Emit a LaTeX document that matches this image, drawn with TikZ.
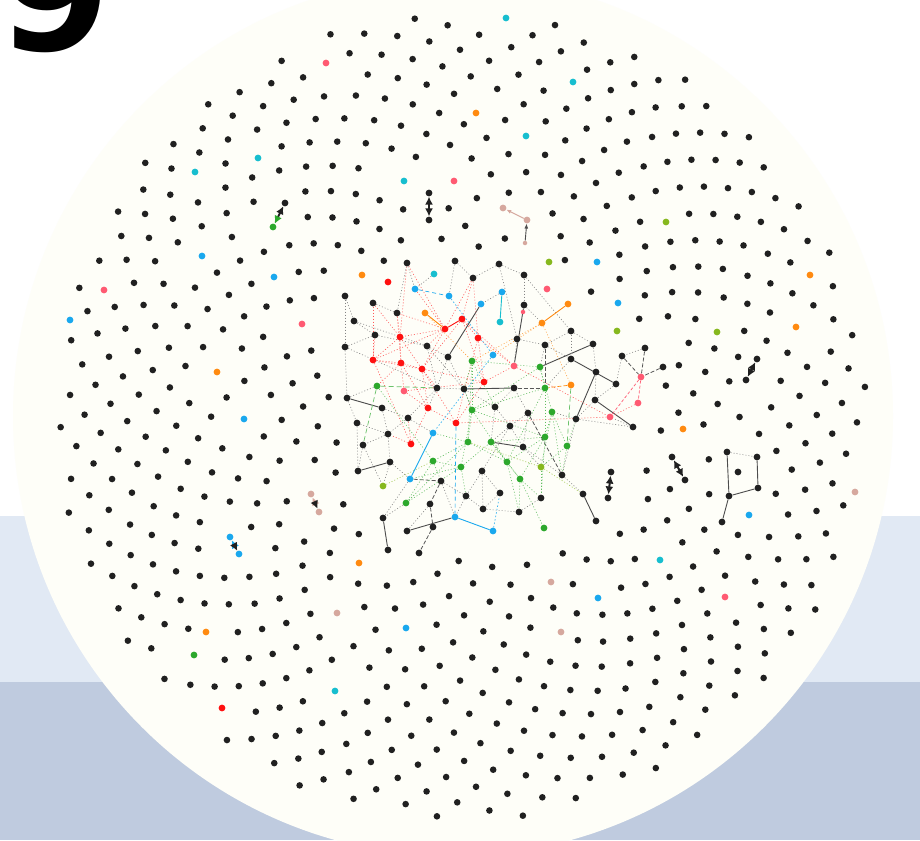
\documentclass[tikz,border=0pt]{standalone}
\usepackage{fontspec}
\setmainfont{DejaVu Sans}
\usetikzlibrary{arrows.meta}
\definecolor{cdk}{HTML}{202020}
\definecolor{ccr}{HTML}{FEFEF8}
\definecolor{cb1}{HTML}{E1E9F4}
\definecolor{cb2}{HTML}{BFCBDF}
\definecolor{cT}{HTML}{17BECF}
\definecolor{cP}{HTML}{FF5A72}
\definecolor{cR}{HTML}{FF1010}
\definecolor{cO}{HTML}{FF8A10}
\definecolor{cB}{HTML}{1AA8EE}
\definecolor{cL}{HTML}{86B81E}
\definecolor{cG}{HTML}{2CA82C}
\definecolor{cN}{HTML}{D6A89E}
\pgfdeclarelayer{bg}\pgfdeclarelayer{edges}\pgfsetlayers{bg,edges,main}
\newcommand\markcell[2]{%
  \edef\mcx{\the\numexpr #1/10\relax}\edef\mcy{\the\numexpr #2/10\relax}%
  \foreach \di in {-1,0,1}{\foreach \dj in {-1,0,1}{%
    \expandafter\gdef\csname occ@\the\numexpr\mcx+\di\relax @\the\numexpr\mcy+\dj\relax\endcsname{}}}}
\newcommand\nd[4]{\node[#1] (#2) at (#3,#4) {};\markcell{#3}{#4}}
\tikzset{
  dot/.style={circle, inner sep=0pt, minimum size=6.8pt, draw=none},
  vK/.style={dot, fill=cdk}, vT/.style={dot, fill=cT}, vP/.style={dot, fill=cP},
  vR/.style={dot, fill=cR}, vO/.style={dot, fill=cO}, vB/.style={dot, fill=cB},
  vL/.style={dot, fill=cL}, vG/.style={dot, fill=cG}, vN/.style={dot, fill=cN},
  vS/.style={minimum size=4.5pt},
  eK/.style={draw=cdk!80, line width=0.9pt},
  eKd/.style={draw=cdk!75, line width=0.8pt, dash pattern=on 4pt off 2pt},
  eKo/.style={draw=cdk!55, line width=0.6pt, dash pattern=on 1pt off 2pt},
  eR/.style={draw=cR!70, line width=0.6pt, dash pattern=on 1pt off 2pt},
  eRs/.style={draw=cR, line width=0.9pt},
  eRd/.style={draw=cP, line width=0.7pt, dash pattern=on 3pt off 2pt},
  eO/.style={draw=cO!80, line width=0.6pt, dash pattern=on 1pt off 2pt},
  eOs/.style={draw=cO, line width=0.9pt},
  eOd/.style={draw=cO, line width=0.7pt, dash pattern=on 4pt off 2pt},
  eG/.style={draw=cG!75, line width=0.6pt, dash pattern=on 1pt off 2pt},
  eGd/.style={draw=cG!70, line width=0.7pt, dash pattern=on 5pt off 3pt},
  eL/.style={draw=cL!80, line width=0.6pt, dash pattern=on 1pt off 2pt},
  eB/.style={draw=cB!85, line width=0.7pt, dash pattern=on 1.5pt off 2pt},
  eBs/.style={draw=cB, line width=0.9pt},
  eBd/.style={draw=cB, line width=0.7pt, dash pattern=on 4pt off 3pt},
  eT/.style={draw=cT, line width=0.9pt},
  eN/.style={draw=cN, line width=0.9pt},
  tipA/.tip={Latex[length=8pt,width=8pt]},
  arw/.style={draw=cdk, line width=2pt, tipA-tipA},
  arwGK/.style={draw=cdk, line width=2pt, {Latex[length=8pt,width=8pt,color=cG]}-tipA},
  arwBK/.style={draw=cdk, line width=2pt, {Latex[length=8pt,width=8pt,color=cB]}-tipA},
  arwNK/.style={draw=cdk, line width=2pt, {Latex[length=8pt,width=8pt,color=cN]}-tipA},
  ninestyle/.style={anchor=base west, inner sep=0pt, text=black, font=\fontsize{162}{162}\selectfont\bfseries}
}
\begin{document}
\begin{tikzpicture}[x=1pt, y=-1pt]
\useasboundingbox (0,0) rectangle (920,840);
\begin{pgfonlayer}{bg}
\fill[white] (0,0) rectangle (920,516);
\fill[cb1] (0,516) rectangle (920,682);
\fill[cb2] (0,682) rectangle (920,840);
\fill[ccr] (453,416) circle (440pt);
\end{pgfonlayer}
\node[ninestyle] (nine) at (-2,51) {9};
% isolated coloured dots
\nd{vT}{o1}{506}{18} \nd{vT}{o2}{573}{82} \nd{vP}{o3}{326}{63}
\nd{vO}{o4}{476}{113} \nd{vT}{o5}{526}{136} \nd{vT}{o6}{258}{158}
\nd{vT}{o7}{195}{172} \nd{vT}{o8}{404}{181} \nd{vP}{o9}{454}{181}
\nd{vL}{o10}{549}{262} \nd{vB}{o11}{597}{262} \nd{vL}{o12}{666}{222}
\nd{vB}{o13}{618}{303} \nd{vO}{o14}{810}{275} \nd{vP}{o15}{547}{289}
\nd{vL}{o16}{617}{331} \nd{vO}{o17}{683}{429} \nd{vL}{o18}{717}{332}
\nd{vO}{o19}{796}{327} \nd{vP}{o20}{104}{290} \nd{vB}{o21}{70}{320}
\nd{vB}{o22}{202}{256} \nd{vB}{o23}{274}{277} \nd{vO}{o24}{362}{275}
\nd{vR}{o25}{388}{282} \nd{vP}{o26}{302}{324} \nd{vO}{o27}{217}{372}
\nd{vB}{o28}{244}{419} \nd{vO}{o29}{359}{563} \nd{vO}{o30}{206}{632}
\nd{vG}{o31}{194}{655} \nd{vR}{o32}{222}{708} \nd{vN}{o33}{337}{613}
\nd{vB}{o34}{406}{628} \nd{vT}{o35}{335}{691} \nd{vN}{o36}{551}{582}
\nd{vN}{o37}{561}{632} \nd{vB}{o38}{598}{598} \nd{vT}{o39}{660}{560}
\nd{vP}{o40}{725}{597} \nd{vB}{o41}{749}{515} \nd{vN}{o42}{855}{492}
\nd{vG}{o43}{544}{528}
% pairs
\nd{vK}{pA1}{285}{203} \nd{vG}{pA2}{273}{227}
\nd{vK}{pB1}{429}{193} \nd{vK}{pB2}{429}{220}
\nd{vN}{pC1}{311}{494} \nd{vN}{pC2}{319}{512}
\nd{vB}{pD1}{230}{537} \nd{vB}{pD2}{239}{554}
\nd{vK}{pE1}{746}{380} \nd{vK}{pE2}{757}{359}
\nd{vK}{pF1}{672}{457} \nd{vK}{pF2}{685}{480}
\nd{vK}{pG1}{611}{472} \nd{vK}{pG2}{608}{498}
\nd{vN}{t1}{503}{208} \nd{vN}{t2}{527}{220} \nd{vN,vS}{t3}{525}{243}
\nd{vK}{s1}{727}{452} \nd{vK}{s2}{757}{457} \nd{vK}{s3}{758}{488}
\nd{vK}{s4}{729}{496} \nd{vK}{s5}{722}{522} \nd{vK}{s6}{738}{472}
% network nodes
\nd{vK}{n1}{407}{263} \nd{vK}{n2}{455}{261} \nd{vK}{n3}{499}{264}
\nd{vK}{n4}{524}{275} \nd{vT}{n5}{434}{274} \nd{vB}{n6}{415}{289}
\nd{vB}{n7}{449}{296} \nd{vK}{n8}{473}{278} \nd{vB}{n9}{502}{292}
\nd{vT}{n10}{500}{322} \nd{vK}{n11}{345}{296} \nd{vK}{n12}{373}{303}
\nd{vK}{n13}{397}{313} \nd{vO}{n14}{425}{313} \nd{vB}{n15}{481}{304}
\nd{vR}{n16}{462}{319} \nd{vR}{n17}{445}{329} \nd{vK}{n18}{524}{305}
\nd{vP,vS}{n19}{523}{312} \nd{vO}{n20}{568}{304} \nd{vO}{n21}{542}{323}
\nd{vK}{n22}{354}{321} \nd{vR}{n23}{400}{337} \nd{vK}{n24}{375}{335}
\nd{vR}{n25}{478}{338} \nd{vK}{n26}{517}{339} \nd{vK}{n27}{571}{331}
\nd{vK}{n28}{345}{347} \nd{vK}{n29}{427}{346} \nd{vK}{n30}{448}{357}
\nd{vG}{n31}{472}{361} \nd{vB}{n32}{493}{355} \nd{vK}{n33}{545}{345}
\nd{vK}{n34}{593}{344} \nd{vR}{n35}{373}{360} \nd{vR}{n36}{401}{363}
\nd{vR}{n37}{422}{369} \nd{vP}{n38}{514}{366} \nd{vG}{n39}{540}{367}
\nd{vK}{n40}{571}{359} \nd{vK}{n41}{616}{384} \nd{vK}{n42}{596}{372}
\nd{vK}{n43}{576}{419} \nd{vR}{n44}{484}{382} \nd{vK}{n45}{437}{388}
\nd{vK}{n46}{464}{389} \nd{vK}{n47}{514}{388} \nd{vG}{n48}{545}{388}
\nd{vO}{n49}{571}{385} \nd{vG}{n50}{377}{386} \nd{vP}{n51}{404}{391}
\nd{vK}{n52}{347}{398} \nd{vK}{n53}{382}{408} \nd{vR}{n54}{428}{408}
\nd{vK}{n55}{495}{407} \nd{vG}{n56}{472}{410} \nd{vK}{n57}{528}{413}
\nd{vG}{n58}{552}{412} \nd{vK}{n59}{408}{418} \nd{vK}{n60}{357}{423}
\nd{vR}{n61}{456}{423} \nd{vK}{n62}{510}{426} \nd{vK}{n63}{388}{434}
\nd{vB}{n64}{433}{433} \nd{vR}{n65}{411}{444} \nd{vG}{n66}{468}{442}
\nd{vG}{n67}{491}{442} \nd{vK}{n68}{523}{447} \nd{vG}{n69}{545}{437}
\nd{vG}{n70}{567}{446} \nd{vK}{n71}{363}{445} \nd{vK}{n72}{390}{462}
\nd{vK}{n73}{358}{471} \nd{vG}{n74}{433}{461} \nd{vG}{n75}{461}{467}
\nd{vK}{n76}{482}{471} \nd{vG}{n77}{507}{462} \nd{vL}{n78}{541}{467}
\nd{vK}{n79}{562}{475} \nd{vG}{n80}{520}{479} \nd{vL}{n81}{383}{486}
\nd{vB}{n82}{410}{479} \nd{vK}{n83}{441}{481} \nd{vK}{n84}{466}{496}
\nd{vK}{n85}{500}{493} \nd{vK}{n86}{541}{498} \nd{vG}{n87}{406}{503}
\nd{vK}{n88}{430}{504} \nd{vK}{n89}{483}{509} \nd{vK}{n90}{519}{512}
\nd{vK}{n91}{383}{518} \nd{vB}{n92}{455}{517} \nd{vK}{n93}{433}{527}
\nd{vK}{n94}{407}{531} \nd{vB}{n95}{493}{531} \nd{vK}{n96}{388}{550}
\nd{vK}{n97}{419}{553} \nd{vP}{n98}{641}{377} \nd{vK}{n99}{622}{356}
\nd{vK}{n100}{645}{348} \nd{vK}{n101}{663}{367} \nd{vP}{n102}{638}{403}
\nd{vP}{n103}{610}{417} \nd{vK}{n104}{595}{400} \nd{vK}{n105}{633}{427}
\nd{vK}{n106}{583}{494} \nd{vK}{n107}{596}{521}
% background sunflower of plain dots
\begin{pgfonlayer}{bg}
\foreach \k in {1,...,780}{%
  \pgfmathsetmacro\spR{14.5*sqrt(\k)}%
  \edef\spT{\the\numexpr \k*381966\relax}%
  \edef\spQ{\the\numexpr (\spT-500000)/1000000\relax}%
  \edef\spM{\the\numexpr (\spT-\spQ*1000000)/1000\relax}%
  \pgfmathsetmacro\spA{0.36*\spM+20}%
  \pgfmathsetmacro\spX{461+\spR*cos(\spA)}%
  \pgfmathsetmacro\spY{416+\spR*sin(\spA)}%
  \edef\spIX{\the\numexpr\dimexpr\spX pt\relax/65536\relax}%
  \edef\spIY{\the\numexpr\dimexpr\spY pt\relax/65536\relax}%
  \edef\spCX{\the\numexpr\spIX/10\relax}%
  \edef\spCY{\the\numexpr\spIY/10\relax}%
  \ifnum\numexpr(\spIX-490)*(\spIX-490)+(\spIY-405)*(\spIY-405)\relax<22500\relax
  \else
    \ifcsname occ@\spCX @\spCY\endcsname\else
      \fill[cdk] (\spX,\spY) circle (3.3pt);
    \fi
  \fi
}
\end{pgfonlayer}
\begin{pgfonlayer}{edges}
% arrows between pairs
\draw[arwGK] (pA2) -- (pA1);
\draw[arw] (pB1) -- (pB2);
\draw[arwNK] (pC1) -- (pC2);
\draw[arwBK] (pD1) -- (pD2);
\draw[arw] (pE1) -- (pE2);
\draw[arw] (pF1) -- (pF2);
\draw[arw] (pG1) -- (pG2);
\draw[eN, {Latex[length=5pt,width=4pt]}-] (t1) -- (t2);
\draw[eK, -{Latex[length=5pt,width=4pt]}] (t3) -- (t2);
\draw[eKo] (s1) -- (s2); \draw[eK] (s2) -- (s3); \draw[eK] (s3) -- (s4);
\draw[eK] (s1) -- (s4); \draw[eK] (s4) -- (s5);
% solid black
\foreach \a/\b in {n15/n30,n18/n38,n34/n39,n40/n41,n42/n43,n46/n47,n52/n53,n73/n72,n94/n92,n91/n96,n104/n105,n106/n107,n67/n68}
  \draw[eK] (\a) -- (\b);
% dashed black
\foreach \a/\b in {n99/n98,n100/n98,n101/n98,n33/n48,n57/n79,n93/n97,n88/n93,n83/n88,n82/n83,n47/n48}
  \draw[eKd] (\a) -- (\b);
% dotted grey
\foreach \a/\b in {n2/n8,n3/n8,n4/n18,n11/n22,n12/n13,n22/n24,n24/n29,n29/n30,n27/n33,n33/n40,n30/n46,n45/n59,n53/n63,n59/n63,n63/n71,n60/n63,n55/n62,n55/n46,n62/n68,n68/n79,n76/n85,n84/n89,n85/n89,n89/n90,n86/n90,n83/n84,n72/n82,n63/n72,n59/n64,n47/n55,n41/n104,n43/n79,n27/n40,n42/n104,n28/n45,n22/n29,n1/n13,n3/n26,n26/n33,n62/n76,n76/n84,n45/n46,n57/n47,n4/n27,n34/n42,n79/n106,n29/n45,n11/n28,n52/n60,n71/n73,n30/n45,n45/n54,n46/n56,n55/n67,n57/n68,n62/n67,n33/n39,n26/n38,n40/n48,n43/n58,n68/n78,n76/n89,n83/n92,n84/n92,n88/n94,n87/n91,n82/n91,n72/n81,n71/n81,n60/n73,n52/n50,n53/n59,n2/n7,n5/n6,n9/n15,n18/n21,n27/n34,n99/n41,n100/n99,n105/n103,n104/n43,n43/n105,n28/n52,n24/n28,n1/n6,n3/n4,n29/n46,n57/n62}
  \draw[eKo] (\a) -- (\b);
% red
\foreach \a/\b in {n8/n17,n8/n25,n16/n25,n17/n23,n17/n37,n23/n35,n35/n37,n36/n37,n37/n44,n44/n38,n13/n36,n12/n35,n54/n61,n61/n44,n65/n54,n54/n36,n25/n44,n16/n38,n103/n61,n102/n103,n13/n23,n35/n65,n65/n59,n1/n17,n25/n38,n37/n54,n44/n51,n51/n36,n23/n37,n6/n17,n1/n23,n12/n23,n24/n35,n35/n36,n37/n61,n23/n36,n13/n17,n8/n16,n16/n44,n17/n29,n25/n61,n38/n103,n65/n63,n51/n54,n37/n45,n36/n50,n16/n37,n17/n35}
  \draw[eR] (\a) -- (\b);
\draw[eRs] (n16) -- (n17);
\draw[eRd] (n98) -- (n102); \draw[eRd] (n98) -- (n103);
% orange
\draw[eOs] (n20) -- (n21); \draw[eOs] (n14) -- (n17);
\foreach \a/\b in {n21/n32,n21/n31,n21/n49,n14/n31}
  \draw[eO] (\a) -- (\b);
\draw[eOd] (n49) -- (n48);
% green
\foreach \a/\b in {n50/n45,n50/n71,n49/n70}
  \draw[eGd] (\a) -- (\b);
\foreach \a/\b in {n31/n56,n56/n66,n66/n74,n67/n80,n69/n80,n58/n70,n39/n56,n74/n87,n75/n67,n77/n67,n78/n70,n80/n86,n56/n75,n39/n58,n48/n69,n31/n39,n58/n78,n77/n80,n50/n74,n87/n75,n74/n75,n31/n46,n56/n69,n80/o43,n48/n56,n66/n77,n69/n77,n31/n66,n56/n77,n67/n69,n69/n86,n70/n79,n58/n69,n39/n48,n48/n77,n66/n87,n74/n83,n75/n84,n77/n90,n80/n90,n56/n46,n31/n55,n66/n64,n58/n79,n78/n86,n70/n43,n75/n82}
  \draw[eG] (\a) -- (\b);
\foreach \a/\b in {n81/n74,n78/n106,n66/n78}
  \draw[eL] (\a) -- (\b);
% blue / teal
\draw[eBd] (n6) -- (n7);
\draw[eT] (n9) -- (n10);
\draw[eBs] (n64) -- (n82); \draw[eBs] (n92) -- (n95);
\foreach \a/\b in {n7/n32,n32/n64,n95/n85}
  \draw[eB] (\a) -- (\b);
\draw[eBd] (n61) -- (n92);
\end{pgfonlayer}
\end{tikzpicture}
\end{document}
